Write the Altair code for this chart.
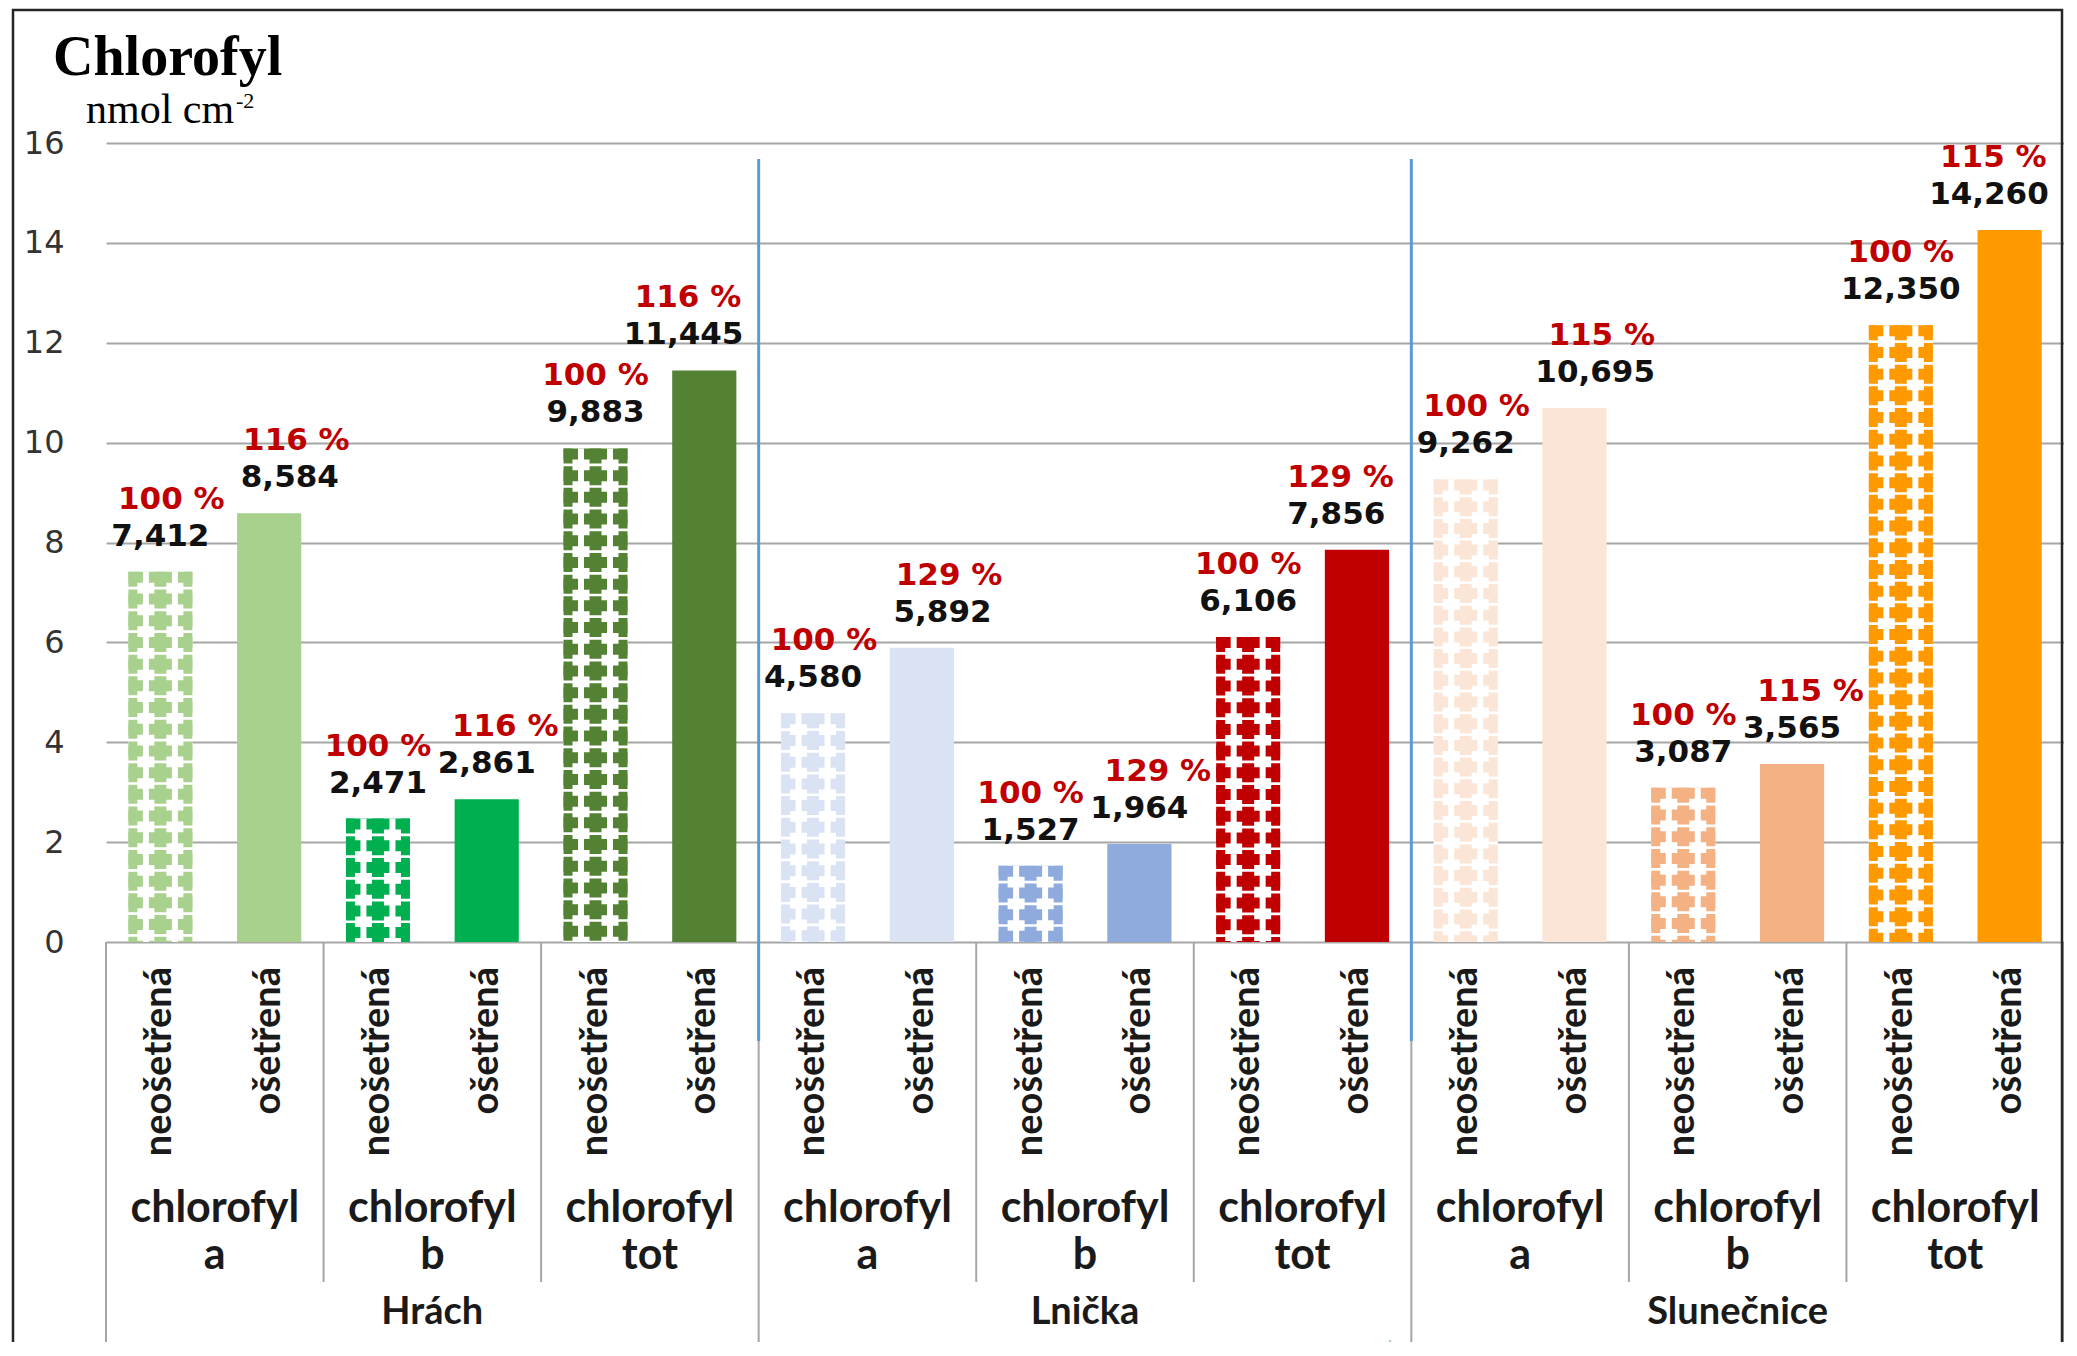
import altair as alt
import pandas as pd

# ---------------- data ----------------
plants = ["Hrách", "Lnička", "Slunečnice"]
pigments = ["a", "b", "tot"]
treatments = ["neošetřená", "ošetřená"]
values = [7.412, 8.584, 2.471, 2.861, 9.883, 11.445,
          4.580, 5.892, 1.527, 1.964, 6.106, 7.856,
          9.262, 10.695, 3.087, 3.565, 12.350, 14.260]
percents = [100, 116, 100, 116, 100, 116,
            100, 129, 100, 129, 100, 129,
            100, 115, 100, 115, 100, 115]
colors = ["#A9D18E", "#00B050", "#548235",
          "#DAE3F3", "#8FAADC", "#C00000",
          "#FBE5D6", "#F4B183", "#FF9900"]
y_ticks = [0, 2, 4, 6, 8, 10, 12, 14, 16]

rows = []
i = 0
for p in plants:
    for g in pigments:
        for t in treatments:
            rows.append(dict(idx=i, plant=p, pigment=g, treat=t, key=f"{p}|{g}",
                             value=values[i], pct=percents[i],
                             vtxt=f"{values[i]:.3f}".replace(".", ","),
                             ptxt=f"{percents[i]} %"))
            i += 1
df = pd.DataFrame(rows)
keys = [f"{p}|{g}" for p in plants for g in pigments]

pig_rows = []
for pi, p in enumerate(plants):
    for gi, g in enumerate(pigments):
        pig_rows.append(dict(mid=6 * pi + 2 * gi + 0.5, word="chlorofyl", letter=g))
pig_df = pd.DataFrame(pig_rows)
plant_df = pd.DataFrame([dict(mid=6 * pi + 2.5, txt=p) for pi, p in enumerate(plants)])
pig_bounds = pd.DataFrame([dict(b=6 * pi + 2 * gi - 0.5) for pi in range(3) for gi in (1, 2)])
plant_bounds = pd.DataFrame([dict(b=6 * pi - 0.5) for pi in range(4)])
blue_bounds = pd.DataFrame([dict(b=6 * pi - 0.5) for pi in (1, 2)])

# ---------------- layout ----------------
W, H = 1958, 799
xs = alt.Scale(domain=[-0.5, 17.5], nice=False, zero=False)
ys = alt.Scale(domain=[0, 16], nice=False)
cs = alt.Scale(domain=keys, range=colors)
LAB_FONT = "Lato"
NUM_FONT = "DejaVu Sans"

base = alt.Chart(df)
yaxis = alt.Axis(values=y_ticks, grid=True, gridColor="#A6A6A6", gridWidth=2,
                 domain=False, ticks=False, labelPadding=42, labelFont=NUM_FONT,
                 labelFontSize=32, labelColor="#333333", title=None)

# solid (treated) bars
solid = base.transform_filter("datum.treat == 'ošetřená'").transform_calculate(
    lo="datum.idx - 0.295", hi="datum.idx + 0.295"
).mark_rect().encode(
    x=alt.X("lo:Q", scale=xs, axis=None), x2="hi:Q",
    y=alt.Y("value:Q", scale=ys, axis=yaxis), y2=alt.datum(0),
    color=alt.Color("key:N", scale=cs, legend=None),
)

untreated = base.transform_filter("datum.treat == 'neošetřená'")
white_bg = untreated.transform_calculate(
    lo="datum.idx - 0.295", hi="datum.idx + 0.295"
).mark_rect(color="white").encode(
    x=alt.X("lo:Q", scale=xs, axis=None), x2="hi:Q",
    y=alt.Y("value:Q", scale=ys), y2=alt.datum(0),
)


def rule_layer(offset, width, dash=None, dash_offset=0, white=False):
    kw = dict(xOffset=offset, strokeWidth=width, strokeCap="butt")
    if dash:
        kw["strokeDash"] = dash
        kw["strokeDashOffset"] = dash_offset
    if white:
        kw["color"] = "white"
    enc = dict(x=alt.X("idx:Q", scale=xs, axis=None),
               y=alt.Y("value:Q", scale=ys), y2=alt.datum(0))
    if not white:
        enc["color"] = alt.Color("key:N", scale=cs, legend=None)
    return untreated.mark_rule(**kw).encode(**enc)


# diamond-like pattern of the untreated bars
bands = rule_layer(0, 64, [11, 10.7], 0)
sep_l = rule_layer(-14.5, 6, white=True)
sep_r = rule_layer(14.5, 6, white=True)
stem_l = rule_layer(-27.5, 9, [19, 2.7], 4)
stem_c = rule_layer(0, 12, [19, 2.7], 4)
stem_r = rule_layer(27.5, 9, [19, 2.7], 4)

# data labels
black_lab = base.transform_calculate(
    lx="datum.idx + (datum.treat == 'ošetřená' ? (datum.pigment == 'a' ? 0.19 : (datum.pigment == 'tot' ? -0.19 : 0)) : 0)"
).mark_text(font=NUM_FONT, fontSize=31, fontWeight="bold", color="#111111",
            baseline="middle", dy=-35).encode(
    x=alt.X("lx:Q", scale=xs, axis=None), y=alt.Y("value:Q", scale=ys), text="vtxt:N")
red_lab = base.transform_calculate(
    lx="datum.idx + (datum.treat == 'ošetřená' ? (datum.pigment == 'a' ? 0.25 : (datum.pigment == 'b' ? 0.17 : -0.15)) : (datum.pigment == 'a' ? 0.1 : 0))"
).mark_text(font=NUM_FONT, fontSize=31, fontWeight="bold", color="#C00000",
            baseline="middle", dy=-72).encode(
    x=alt.X("lx:Q", scale=xs, axis=None), y=alt.Y("value:Q", scale=ys), text="ptxt:N")

# category box below the axis
pig_lines = alt.Chart(pig_bounds).mark_rule(color="#A6A6A6", strokeWidth=2).encode(
    x=alt.X("b:Q", scale=xs, axis=None), y=alt.datum(0), y2=alt.value(1139))
plant_lines = alt.Chart(plant_bounds).mark_rule(color="#A6A6A6", strokeWidth=2).encode(
    x=alt.X("b:Q", scale=xs, axis=None), y=alt.datum(0), y2=alt.value(1230))
blue_lines = alt.Chart(blue_bounds).mark_rule(color="#5B9BD5", strokeWidth=3).encode(
    x=alt.X("b:Q", scale=xs, axis=None), y=alt.value(16), y2=alt.value(898))

treat_lab = base.mark_text(font=LAB_FONT, fontSize=38, fontWeight="bold", color="#1a1a1a",
                           angle=270, align="right", baseline="middle").encode(
    x=alt.X("idx:Q", scale=xs, axis=None), y=alt.value(824), text="treat:N")
pig_word = alt.Chart(pig_df).mark_text(font=LAB_FONT, fontSize=43, fontWeight="bold",
                                       color="#1a1a1a", baseline="middle").encode(
    x=alt.X("mid:Q", scale=xs, axis=None), y=alt.value(1066), text="word:N")
pig_letter = alt.Chart(pig_df).mark_text(font=LAB_FONT, fontSize=43, fontWeight="bold",
                                         color="#1a1a1a", baseline="middle").encode(
    x=alt.X("mid:Q", scale=xs, axis=None), y=alt.value(1113), text="letter:N")
plant_lab = alt.Chart(plant_df).mark_text(font=LAB_FONT, fontSize=38, fontWeight="bold",
                                          color="#1a1a1a", baseline="middle").encode(
    x=alt.X("mid:Q", scale=xs, axis=None), y=alt.value(1170), text="txt:N")

# title and unit
title_df = pd.DataFrame({"t": ["Chlorofyl"]})
title = alt.Chart(title_df).mark_text(font="Liberation Serif", fontSize=56, fontWeight="bold",
                                      color="#000000", align="left", baseline="alphabetic").encode(
    x=alt.value(-53), y=alt.value(-68), text="t:N")
unit_df = pd.DataFrame({"t": ["nmol cm"]})
unit = alt.Chart(unit_df).mark_text(font="Liberation Serif", fontSize=42, color="#000000",
                                    align="left", baseline="alphabetic").encode(
    x=alt.value(-20), y=alt.value(-20), text="t:N")
sup_df = pd.DataFrame({"t": ["-2"]})
sup = alt.Chart(sup_df).mark_text(font="Liberation Serif", fontSize=22, color="#000000",
                                  align="left", baseline="alphabetic").encode(
    x=alt.value(130), y=alt.value(-35), text="t:N")

# frame + slide decoration
frame_df = pd.DataFrame({"f": [1]})
frame = alt.Chart(frame_df).mark_rect(fill=None, stroke="#262626", strokeWidth=2.5).encode(
    x=alt.value(-93), x2=alt.value(1956), y=alt.value(-133), y2=alt.value(1240))
tri = alt.Chart(frame_df).mark_point(shape="triangle-up", filled=True, size=3600,
                                     color="#B3CDD9", opacity=1).encode(
    x=alt.value(1284), y=alt.value(1222))

chart = alt.layer(
    solid, white_bg, bands, sep_l, sep_r, stem_l, stem_c, stem_r,
    pig_lines, plant_lines, blue_lines,
    black_lab, red_lab, treat_lab, pig_word, pig_letter, plant_lab,
    title, unit, sup, tri, frame,
).properties(
    width=W, height=H,
    autosize=alt.AutoSizeParams(type="none"),
    padding={"left": 98, "top": 135, "right": 0, "bottom": 400},
).configure_view(stroke=None)

chart.save("out.html", embed_options={"renderer": "svg", "actions": False})
